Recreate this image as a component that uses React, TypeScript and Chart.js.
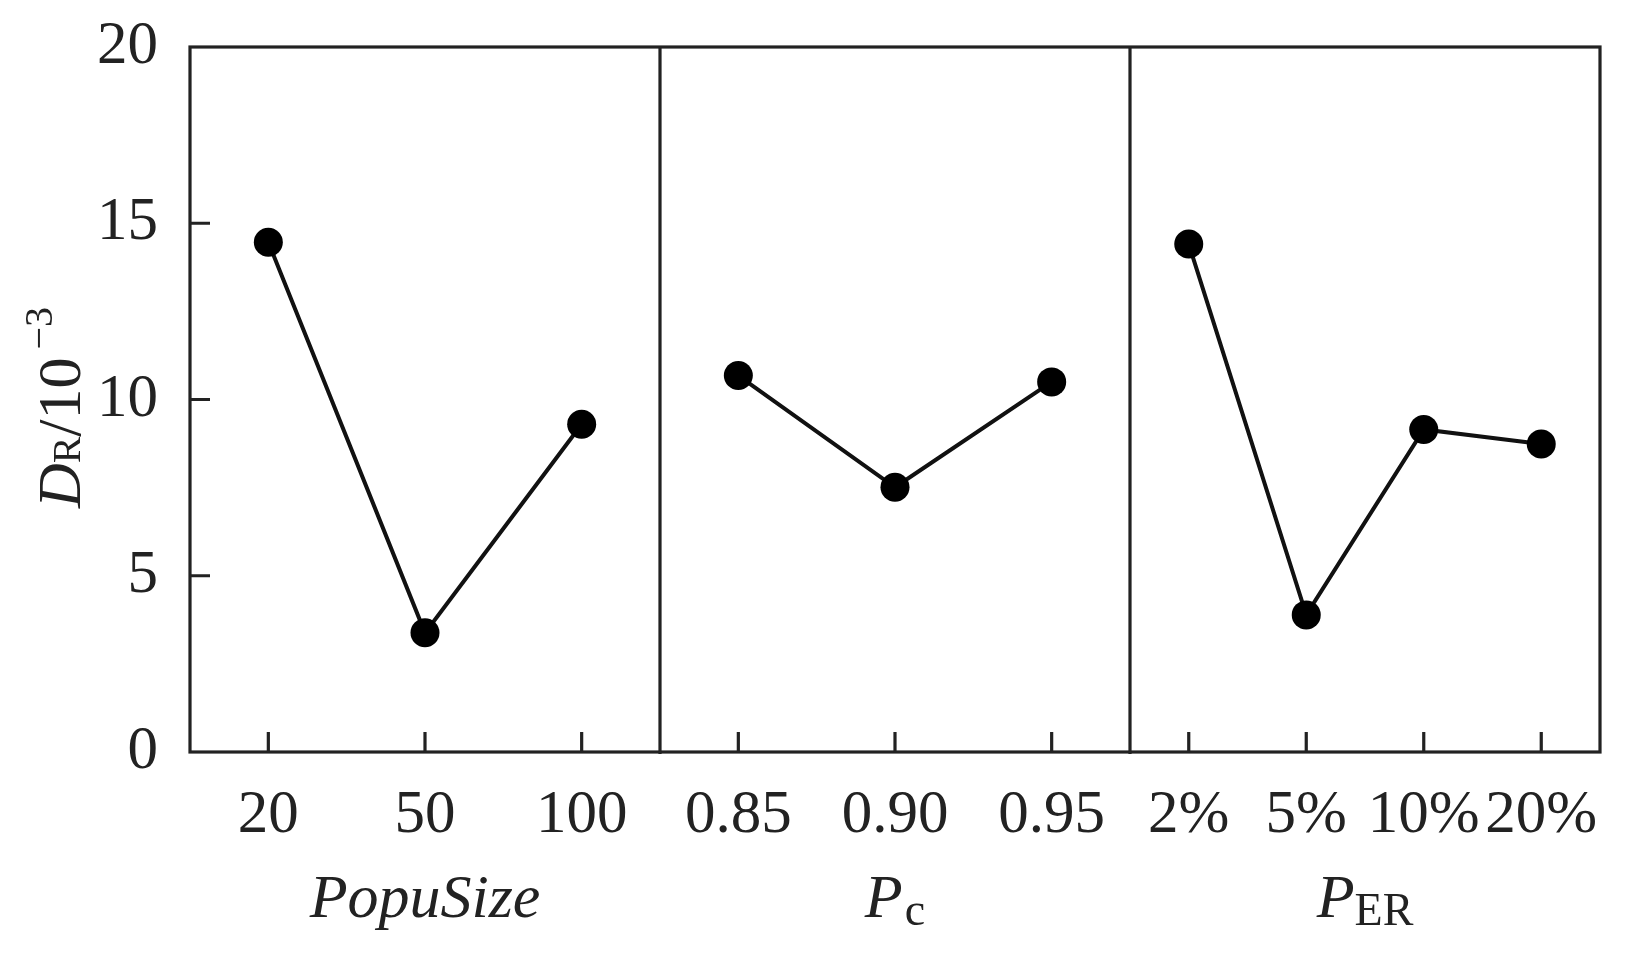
import React, { useEffect, useRef } from 'react';
import { Chart, registerables } from 'chart.js';

Chart.register(...registerables);

// ---- data ----
const popuSizeLabels = ['20', '50', '100'];
const popuSizeValues = [14.46, 3.38, 9.3];
const pcLabels = ['0.85', '0.90', '0.95'];
const pcValues = [10.68, 7.51, 10.5];
const perLabels = ['2%', '5%', '10%', '20%'];
const perValues = [14.41, 3.89, 9.15, 8.74];
const yMin = 0;
const yMax = 20;
const yStep = 5;

const FONT = '"Liberation Serif", "Times New Roman", Times, serif';
const INK = '#222';

type Run = { text: string; font: string; dy?: number; gap?: number };

function drawRuns(ctx: CanvasRenderingContext2D, runs: Run[], cx: number, baseY: number) {
  let total = 0;
  const widths = runs.map((r) => {
    ctx.font = r.font;
    const w = ctx.measureText(r.text).width;
    total += w + (r.gap || 0);
    return w;
  });
  let x = cx - total / 2;
  runs.forEach((r, i) => {
    x += r.gap || 0;
    ctx.font = r.font;
    ctx.fillText(r.text, x, baseY + (r.dy || 0));
    x += widths[i];
  });
}

const framePlugin = {
  id: 'framePlugin',
  beforeDatasetsDraw(chart: any) {
    const { ctx, chartArea: a, scales } = chart;
    ctx.save();
    ctx.strokeStyle = INK;
    ctx.lineWidth = 3.2;
    ctx.lineCap = 'butt';
    ctx.strokeRect(a.left, a.top, a.right - a.left, a.bottom - a.top);
    const xs = [scales.x1, scales.x2, scales.x3];
    xs.forEach((s: any, k: number) => {
      ctx.beginPath();
      if (k < xs.length - 1) {
        ctx.moveTo(s.right, a.top);
        ctx.lineTo(s.right, a.bottom + 2);
      }
      s.ticks.forEach((_: any, i: number) => {
        const x = s.getPixelForTick(i);
        ctx.moveTo(x, a.bottom);
        ctx.lineTo(x, a.bottom - 20);
      });
      ctx.stroke();
    });
    const ys = scales.y;
    ctx.beginPath();
    ys.ticks.forEach((t: any) => {
      if (t.value > ys.min && t.value < ys.max) {
        const py = ys.getPixelForValue(t.value);
        ctx.moveTo(a.left, py);
        ctx.lineTo(a.left + 20, py);
      }
    });
    ctx.stroke();
    ctx.restore();
  },
  afterDraw(chart: any) {
    const { ctx, chartArea: a, scales } = chart;
    ctx.save();
    ctx.fillStyle = INK;
    ctx.textBaseline = 'alphabetic';
    ctx.textAlign = 'left';
    const baseY = a.bottom + 165;
    const centers = [scales.x1, scales.x2, scales.x3].map((s: any) => (s.left + s.right) / 2);
    drawRuns(ctx, [{ text: 'PopuSize', font: `italic 62px ${FONT}` }], centers[0], baseY);
    drawRuns(
      ctx,
      [
        { text: 'P', font: `italic 62px ${FONT}` },
        { text: 'c', font: `46px ${FONT}`, dy: 8, gap: 2 },
      ],
      centers[1],
      baseY
    );
    drawRuns(
      ctx,
      [
        { text: 'P', font: `italic 62px ${FONT}` },
        { text: 'ER', font: `46px ${FONT}`, dy: 8, gap: 0 },
      ],
      centers[2],
      baseY
    );
    // y title, rotated
    ctx.translate(80, (a.top + a.bottom) / 2 + 8);
    ctx.rotate(-Math.PI / 2);
    drawRuns(
      ctx,
      [
        { text: 'D', font: `italic 62px ${FONT}` },
        { text: 'R', font: `40px ${FONT}`, gap: 0 },
        { text: '/10', font: `62px ${FONT}` },
        { text: '\u22123', font: `40px ${FONT}`, dy: -28, gap: 8 },
      ],
      0,
      0
    );
    ctx.restore();
  },
};

function makeDataset(values: number[], xAxisID: string) {
  return {
    data: values,
    xAxisID,
    yAxisID: 'y',
    borderColor: '#111',
    borderWidth: 4,
    pointRadius: 14.5,
    pointHoverRadius: 14.5,
    pointBackgroundColor: '#000',
    pointBorderColor: '#000',
    pointBorderWidth: 0,
    tension: 0,
    fill: false,
  };
}

function xScale(labels: string[]) {
  return {
    type: 'category' as const,
    labels,
    position: 'bottom' as const,
    stack: 'xstack',
    stackWeight: 1,
    offset: true,
    grid: { display: false, drawTicks: false, tickLength: 0 },
    border: { display: false },
    ticks: {
      autoSkip: false,
      maxRotation: 0,
      minRotation: 0,
      padding: 27,
      color: INK,
      font: { family: FONT, size: 61 },
    },
    afterFit: (s: any) => {
      s.height = 211;
      s.paddingLeft = 0;
      s.paddingRight = 0;
      s.paddingTop = 0;
      s.paddingBottom = 0;
    },
  };
}

export default function App() {
  const canvasRef = useRef<HTMLCanvasElement | null>(null);

  useEffect(() => {
    document.body.style.margin = '0';
    document.body.style.overflow = 'hidden';
    const canvas = canvasRef.current;
    if (!canvas) return;
    const chart = new Chart(canvas, {
      type: 'line',
      data: {
        datasets: [
          makeDataset(popuSizeValues, 'x1'),
          makeDataset(pcValues, 'x2'),
          makeDataset(perValues, 'x3'),
        ] as any,
      },
      options: {
        responsive: false,
        animation: false,
        layout: { padding: { left: 66, right: 44, top: 47, bottom: 0 } },
        plugins: {
          legend: { display: false },
          tooltip: { enabled: false },
        },
        scales: {
          x1: xScale(popuSizeLabels),
          x2: xScale(pcLabels),
          x3: xScale(perLabels),
          y: {
            type: 'linear',
            position: 'left',
            min: yMin,
            max: yMax,
            ticks: {
              stepSize: yStep,
              padding: 32,
              color: INK,
              font: { family: FONT, size: 61 },
            },
            grid: { display: false, drawTicks: false, tickLength: 0 },
            border: { display: false },
            afterFit: (s: any) => {
              s.width = 124;
              s.paddingLeft = 0;
              s.paddingRight = 0;
              s.paddingTop = 0;
              s.paddingBottom = 0;
            },
          },
        } as any,
      },
      plugins: [framePlugin],
    });
    return () => chart.destroy();
  }, []);

  return (
    <div style={{ width: 1644, height: 963, background: '#fff' }}>
      <canvas ref={canvasRef} width={1644} height={963} style={{ width: 1644, height: 963, display: 'block' }} />
    </div>
  );
}
